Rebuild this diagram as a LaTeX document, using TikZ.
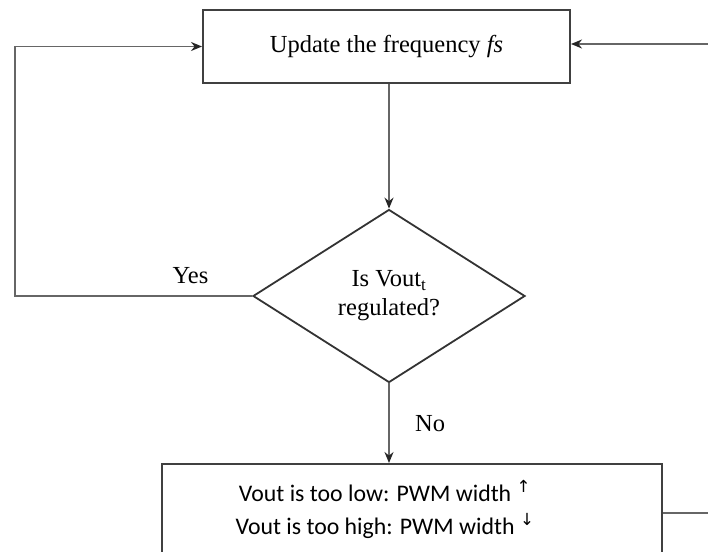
\documentclass[tikz,border=0pt]{standalone}
\usepackage{fontspec}
\setmainfont{Liberation Serif}
\newfontfamily\carlito{Carlito}
\newfontfamily\dejavu{DejaVu Sans}
\usetikzlibrary{arrows.meta, shapes.geometric}

\begin{document}
\begin{tikzpicture}[
            x = 1pt, y = -1pt, % one unit per pixel of the layout
            > = {Stealth[length = 11pt, width = 9pt, color = black!85]}, % arrow head style
            semithick % line style
        ]

        \tikzstyle{block}=[
            draw = black!75,
            line width = 2pt,
            fill = white,
            minimum width = 367pt,
            minimum height = 73pt,
            font = \fontsize{24.5}{28}\selectfont
        ]
        \tikzstyle{decision}=[
            diamond,
            draw = black!80,
            line width = 1.8pt,
            aspect = 1.57,
            minimum width = 272pt,
            minimum height = 173pt,
            inner sep = 0pt,
            align = center,
            font = \fontsize{24.5}{29}\selectfont
        ]
        \tikzstyle{line}=[
            draw = black!60,
            line width = 1.6pt
        ]
        \tikzstyle{tag}=[
            font = \fontsize{24.5}{28}\selectfont
        ]

        \useasboundingbox (0,0) rectangle (708,551);
        \clip (0,0) rectangle (708,551);

        \node[block] (update) at (386.5,46.5) {Update the frequency \textit{fs}};
        \node[decision] (regulated) at (389,296) {Is Vout\textsubscript{t}\\regulated?};
        \node[block, minimum width = 500pt, minimum height = 90pt] (adjust) at (412,509) {};
        \node[align = center, font = \carlito\fontsize{23.8}{33}\selectfont] (adjusttext) at (385,509)
            {Vout is too low: PWM width \textsuperscript{\dejavu ↑}\\Vout is too high: PWM width \textsuperscript{\dejavu ↓}};

        \coordinate (loop) at (15,296);
        \coordinate (feedin) at (708,44);
        \coordinate (feedout) at (708,513);

        \path[line, ->] (regulated.north |- update.south) -- (regulated.north);
        \path[line, ->] (regulated.west) -- node[tag, above = 8pt, pos = 0.26] {Yes} (loop) |- (update.west);
        \path[line, ->] (regulated.south) -- node[tag, right = 22pt] {No} (adjust.north -| regulated.south);
        \path[line, ->] (feedin) -- (feedin -| update.east);
        \path[line] (feedout -| adjust.east) -- (feedout);
    \end{tikzpicture}
\end{document}
